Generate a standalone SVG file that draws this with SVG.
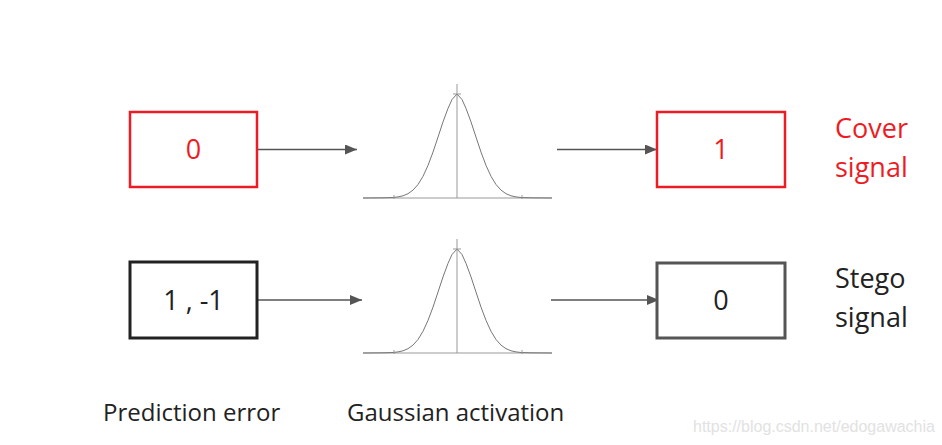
<svg xmlns="http://www.w3.org/2000/svg" width="942" height="445" viewBox="0 0 942 445">
<style>
.box{fill:#fff;stroke-width:2.5}
.red{stroke:#ED1C24}
.blk{stroke:#222;stroke-width:3}
.gry{stroke:#555;stroke-width:3}
.num{font-family:"Open Sans","Noto Sans",sans-serif;font-size:27px;text-anchor:middle}
.lab{font-family:"Open Sans","Noto Sans",sans-serif;font-size:27px}
.cap{font-family:"Open Sans","Noto Sans",sans-serif;font-size:24px;fill:#222}
.conn{stroke:#555;stroke-width:1.3;fill:none;marker-end:url(#ah)}
.axis{stroke:#999;stroke-width:1;fill:none}
.curve{stroke:#777;stroke-width:1;fill:none}
</style>
<defs>
<marker id="ah" markerWidth="12" markerHeight="10" refX="12" refY="5" orient="auto" markerUnits="userSpaceOnUse">
<path d="M0,0 L12,5 L0,10 Z" fill="#555"/>
</marker>
<g id="gauss">
<line class="axis" x1="363" y1="198" x2="552" y2="198"/>
<line class="axis" x1="457" y1="84" x2="457" y2="198"/>
<polyline class="curve" points="363,198 383,197.8 393,197.5 398,196.9 403,195.8 408,193.7 413,190.1 418,184.5 423,176.3 428,165.4 433,152.1 438,137.1 443,121.9 448,108.4 452,99.5 457,94 462,99.5 466,108.4 471,121.9 476,137.1 481,152.1 486,165.4 491,176.3 496,184.5 501,190.1 506,193.7 511,195.8 516,196.9 521,197.5 531,197.8 552,198"/>
<line class="axis" x1="453" y1="94" x2="461" y2="94"/>
<line class="axis" x1="394" y1="195" x2="394" y2="199"/>
<line class="axis" x1="522" y1="195" x2="522" y2="199"/>
</g>
</defs>
<g id="connectors">
<line class="conn" x1="257" y1="149.5" x2="357" y2="149.5"/>
<line class="conn" x1="557" y1="149.5" x2="657" y2="149.5"/>
<line class="conn" x1="257" y1="300" x2="362" y2="300"/>
<line class="conn" x1="551" y1="300" x2="659" y2="300"/>
</g>
<g id="input-cover">
<rect class="box red" x="130" y="112" width="127" height="75"/>
<text class="num" x="193.5" y="159" fill="#ED1C24">0</text>
</g>
<g id="gauss-cover"><use href="#gauss"/></g>
<g id="output-cover">
<rect class="box red" x="657" y="112" width="128" height="75"/>
<text class="num" x="721" y="159" fill="#ED1C24">1</text>
</g>
<g id="label-cover">
<text class="lab" x="835" y="138" fill="#ED1C24">Cover</text>
<text class="lab" x="835" y="177" fill="#ED1C24">signal</text>
</g>
<g id="input-stego">
<rect class="box blk" x="130" y="262" width="127" height="76"/>
<text class="num" x="193.5" y="310" fill="#222">1 , -1</text>
</g>
<g id="gauss-stego"><use href="#gauss" transform="translate(0,155)"/></g>
<g id="output-stego">
<rect class="box gry" x="657" y="263" width="128" height="75"/>
<text class="num" x="721" y="310" fill="#222">0</text>
</g>
<g id="label-stego">
<text class="lab" x="835" y="288" fill="#222">Stego</text>
<text class="lab" x="835" y="327" fill="#222">signal</text>
</g>
<g id="captions">
<text class="cap" x="103" y="421">Prediction error</text>
<text class="cap" x="347" y="421">Gaussian activation</text>
</g>
<text x="693" y="432" font-family="Liberation Sans,Arial,sans-serif" font-size="16" fill="#e2e2e2">https://blog.csdn.net/edogawachia</text>
</svg>
